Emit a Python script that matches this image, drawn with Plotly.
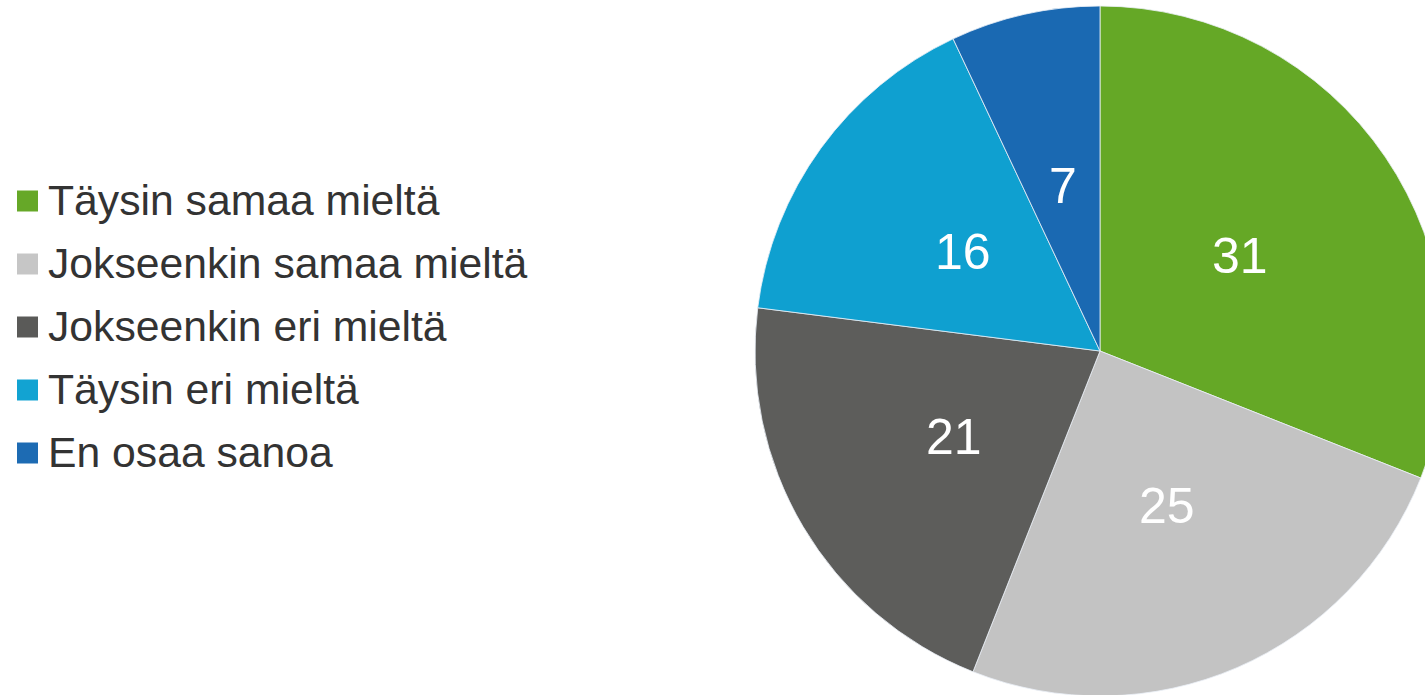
import math
import plotly.graph_objects as go

categories = ["Täysin samaa mieltä", "Jokseenkin samaa mieltä", "Jokseenkin eri mieltä",
              "Täysin eri mieltä", "En osaa sanoa"]
values = [31, 25, 21, 16, 7]
colors = ["#65a826", "#c3c3c3", "#5d5d5b", "#0fa0d0", "#1a69b2"]
legend_colors = ["#66a828", "#c6c6c6", "#5a5a58", "#12a3d2", "#1d6bb3"]

W, H = 1470, 700
FONT = "Arial, 'Liberation Sans', sans-serif"
CX, CY, R = 1100, 351, 345

fig = go.Figure()
fig.add_trace(go.Pie(
    labels=categories, values=values, sort=False, direction="clockwise", rotation=0,
    marker=dict(colors=colors, line=dict(color="rgba(235,240,248,0.8)", width=1)),
    textinfo="none", hoverinfo="label+value", showlegend=False,
    domain=dict(x=[(CX - R) / W, (CX + R) / W], y=[1 - (CY + R) / H, 1 - (CY - R) / H]),
))

# slice value labels placed at mid-angle of each slice
total = sum(values)
cum = 0
for v in values:
    ang = 2 * math.pi * (cum + v / 2) / total
    cum += v
    px = CX + 0.49 * R * math.sin(ang)
    py = CY - 0.49 * R * math.cos(ang)
    fig.add_annotation(text=str(v), xref="paper", yref="paper", x=px / W, y=1 - py / H,
                       xanchor="center", yanchor="middle", showarrow=False,
                       font=dict(family=FONT, size=50, color="white"))

# custom legend
y0, step, sq = 201, 63, 21
for i, (lab, c) in enumerate(zip(categories, legend_colors)):
    yc = y0 + i * step
    fig.add_shape(type="rect", xref="paper", yref="paper",
                  x0=17 / W, x1=38 / W, y0=1 - (yc + sq / 2) / H, y1=1 - (yc - sq / 2) / H,
                  fillcolor=c, line=dict(width=0))
    fig.add_annotation(text=lab, xref="paper", yref="paper", x=46 / W, y=1 - (yc - 1) / H,
                       xanchor="left", yanchor="middle", showarrow=False,
                       font=dict(family=FONT, size=42.7, color="#333333"))

fig.update_layout(width=W, height=H, margin=dict(l=0, r=0, t=0, b=0),
                  paper_bgcolor="white", plot_bgcolor="white")

fig.write_html("out.html", config={"displayModeBar": False},
               post_script="document.body.style.margin='0';document.body.style.overflow='hidden';"
                           "document.documentElement.style.overflow='hidden';")
